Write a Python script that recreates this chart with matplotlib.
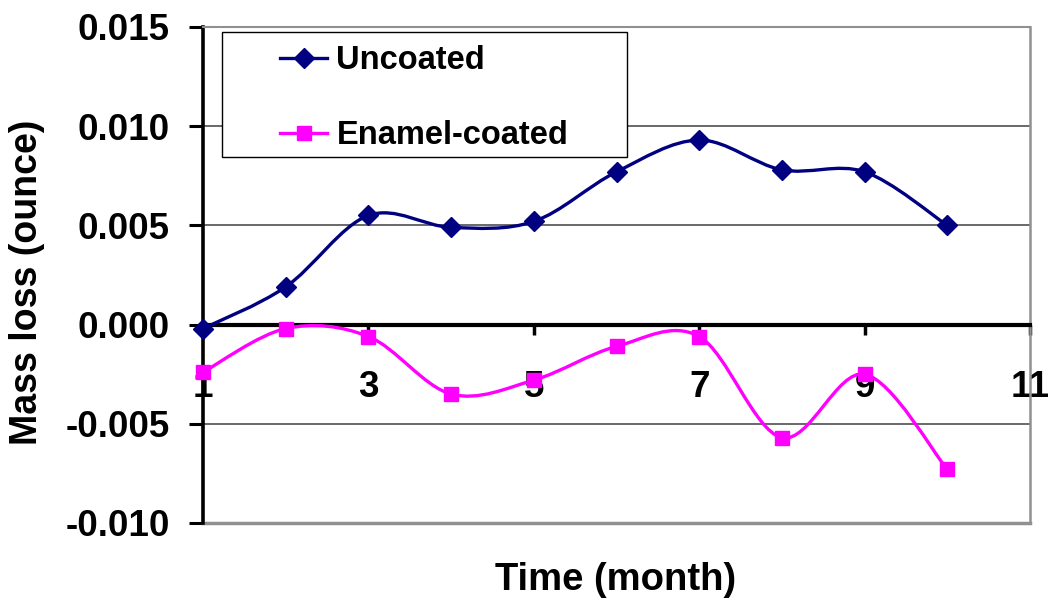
import matplotlib
matplotlib.use('Agg')
import matplotlib.pyplot as plt
from matplotlib.path import Path
from matplotlib.patches import PathPatch, Rectangle
from matplotlib.lines import Line2D
from matplotlib.ticker import FixedLocator, FuncFormatter
import numpy as np

# ---- data ----
months = [1, 2, 3, 4, 5, 6, 7, 8, 9, 10]
uncoated = [-0.0002, 0.0019, 0.0055, 0.0049, 0.0052, 0.0077, 0.0093, 0.0078, 0.0077, 0.0050]
enamel = [-0.0024, -0.0002, -0.0006, -0.0035, -0.0028, -0.0011, -0.0006, -0.0057, -0.0025, -0.0073]
series_names = ["Uncoated", "Enamel-coated"]
x_ticks = [1, 3, 5, 7, 9, 11]
y_ticks = [-0.010, -0.005, 0.000, 0.005, 0.010, 0.015]
x_label = "Time (month)"
y_label = "Mass loss (ounce)"

plt.rcParams['font.family'] = ['Liberation Sans', 'DejaVu Sans']
plt.rcParams['font.weight'] = 'bold'

W, H = 1051, 604
fig = plt.figure(figsize=(W / 100, H / 100), dpi=100)
ax = fig.add_axes([203 / W, 1 - 523 / H, (1030 - 203) / W, (523 - 27) / H])
ax.set_xlim(1, 11)
ax.set_ylim(-0.010, 0.015)


def smooth_path(xs, ys):
    """Excel-like smoothed line (Catmull-Rom as cubic Bezier)."""
    pts = np.column_stack([xs, ys]).astype(float)
    n = len(pts)
    verts = [pts[0]]
    codes = [Path.MOVETO]
    for i in range(n - 1):
        p0 = pts[i - 1] if i > 0 else pts[i]
        p1 = pts[i]
        p2 = pts[i + 1]
        p3 = pts[i + 2] if i + 2 < n else pts[i + 1]
        c1 = p1 + (p2 - p0) / 6.0
        c2 = p2 - (p3 - p1) / 6.0
        verts += [c1, c2, p2]
        codes += [Path.CURVE4] * 3
    return Path(verts, codes)


navy = '#000080'
magenta = '#FF00FF'
lw = 2.4

ax.add_patch(PathPatch(smooth_path(months, uncoated), fill=False, edgecolor=navy,
                       lw=lw, zorder=3, capstyle='round', joinstyle='round'))
ax.add_patch(PathPatch(smooth_path(months, enamel), fill=False, edgecolor=magenta,
                       lw=lw, zorder=3, capstyle='round', joinstyle='round'))
ax.plot(months, uncoated, linestyle='none', marker='D', ms=10, color=navy, zorder=4, clip_on=False)
ax.plot(months, enamel, linestyle='none', marker='s', ms=10.5, color=magenta, zorder=4, clip_on=False)

# grid
ax.yaxis.set_major_locator(FixedLocator(y_ticks))
ax.yaxis.set_major_formatter(FuncFormatter(lambda v, p: f"{v:.3f}"))
ax.yaxis.grid(True, color='#404040', lw=1.1, zorder=0)
ax.set_axisbelow(True)

# spines
ax.spines['left'].set_linewidth(2.6)
ax.spines['left'].set_color('black')
ax.spines['bottom'].set_position(('data', 0))
ax.spines['bottom'].set_linewidth(3)
ax.spines['bottom'].set_color('black')
ax.spines['bottom'].set_zorder(2.5)
ax.spines['right'].set_color('#909090')
ax.spines['right'].set_linewidth(1.8)
ax.spines['top'].set_color('#909090')
ax.spines['top'].set_linewidth(1.5)
ax.axhline(-0.010, color='#909090', lw=2.5, zorder=1, clip_on=False)

ax.xaxis.set_major_locator(FixedLocator(x_ticks))
ax.xaxis.set_major_formatter(FuncFormatter(lambda v, p: f"{int(round(v))}"))
ax.tick_params(axis='x', direction='out', length=7.5, width=2.5, pad=25,
               labelsize=26.5, color='black')
ax.tick_params(axis='y', direction='out', length=10, width=2.2, pad=14,
               labelsize=26.5, color='black')
for lab in ax.get_xticklabels() + ax.get_yticklabels():
    lab.set_fontweight('bold')

fig.text(27 / W, 1 - 282 / H, y_label, rotation=90, ha='center', va='center',
         fontsize=27, fontweight='bold')
fig.text(616 / W, 1 - 590 / H, x_label, ha='center', va='baseline',
         fontsize=27.5, fontweight='bold')

# legend box
ax.add_patch(Rectangle((222 / W, 1 - 157 / H), (627 - 222) / W, (157 - 32) / H,
                       transform=fig.transFigure, facecolor='white', edgecolor='black',
                       lw=1.0, zorder=5, clip_on=False))
handles = [Line2D([], [], color=navy, lw=lw, marker='D', ms=10),
           Line2D([], [], color=magenta, lw=lw, marker='s', ms=10.5)]
leg = fig.legend(handles, series_names, loc='upper left',
                 bbox_to_anchor=(280 / W, 1 - 45 / H), bbox_transform=fig.transFigure,
                 frameon=False, borderpad=0, borderaxespad=0, numpoints=1,
                 handlelength=1.45, handletextpad=0.28, labelspacing=1.35,
                 prop={'size': 23.5, 'weight': 'bold'})
leg.set_zorder(10)

fig.savefig('out.png', dpi=100)
